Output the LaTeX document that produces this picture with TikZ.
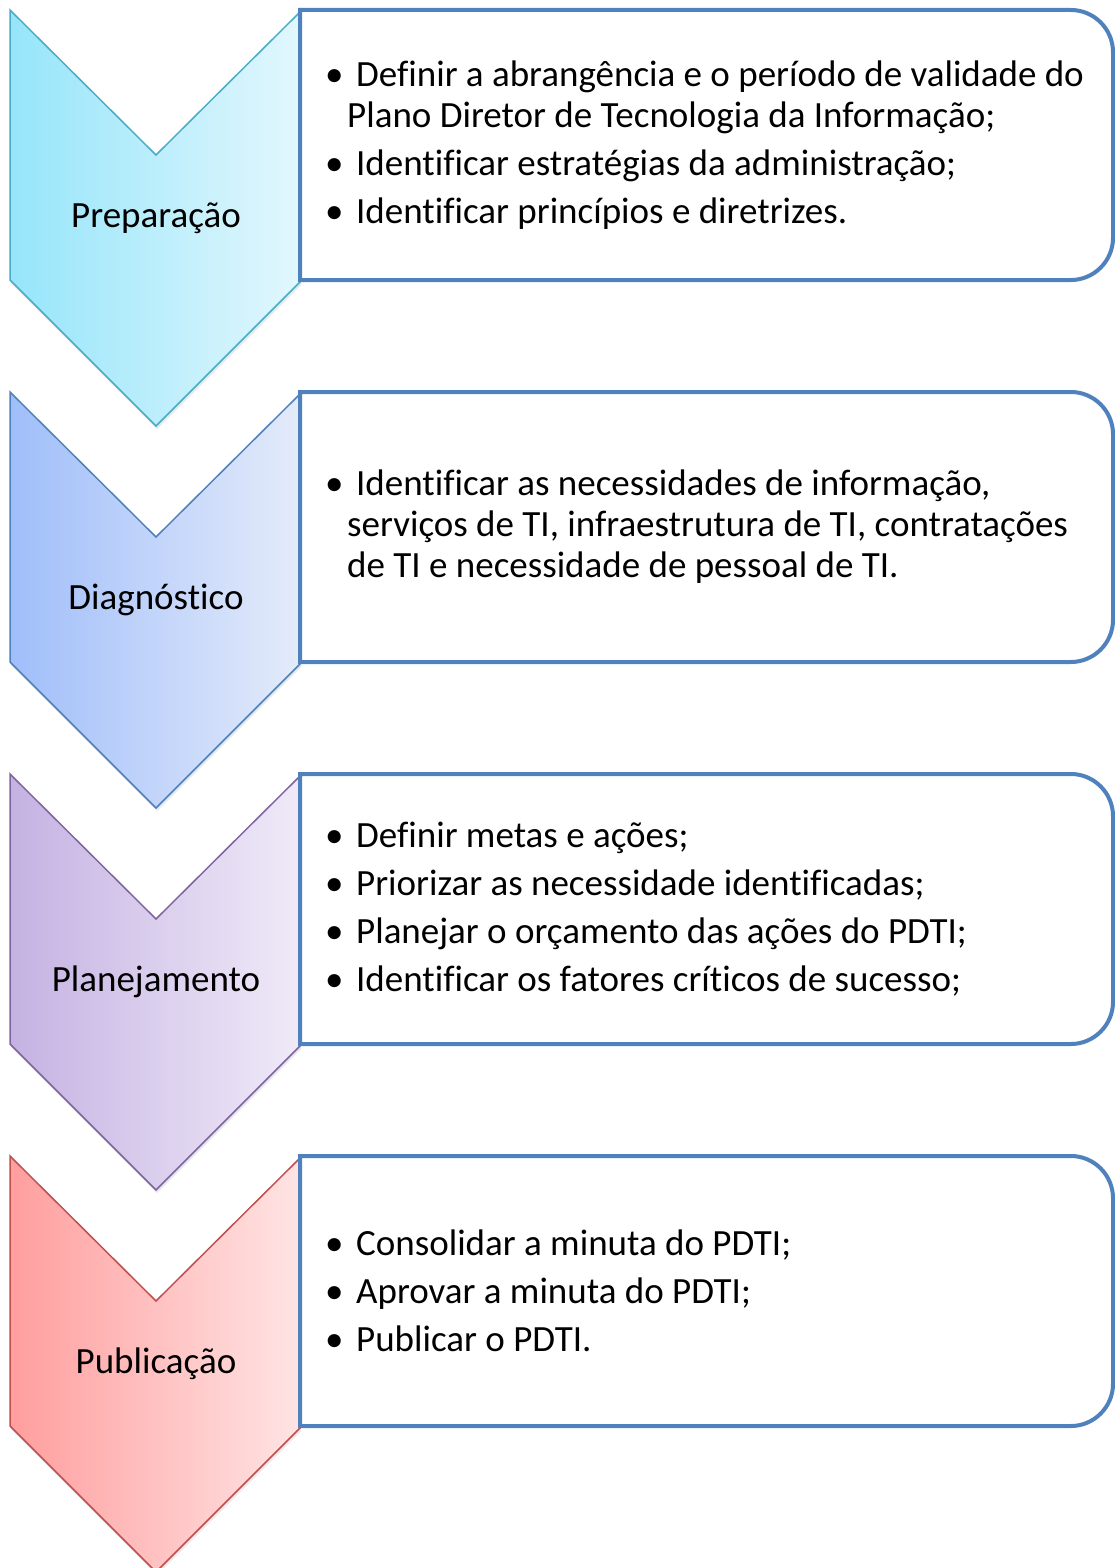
\documentclass[tikz,border=0pt]{standalone}
\usepackage{fontspec}
\setmainfont{Carlito}[Ligatures=CommonOff]
\usetikzlibrary{shadows}

\definecolor{chevAleft}{RGB}{150,229,250}
\definecolor{chevAright}{RGB}{226,247,253}
\definecolor{chevAline}{RGB}{75,172,198}
\definecolor{chevBleft}{RGB}{160,190,250}
\definecolor{chevBright}{RGB}{228,235,250}
\definecolor{chevBline}{RGB}{79,129,189}
\definecolor{chevCleft}{RGB}{196,178,226}
\definecolor{chevCright}{RGB}{240,234,248}
\definecolor{chevCline}{RGB}{128,100,162}
\definecolor{chevDleft}{RGB}{255,158,158}
\definecolor{chevDright}{RGB}{255,228,228}
\definecolor{chevDline}{RGB}{192,80,77}
\definecolor{boxblue}{RGB}{79,129,189}

\newcommand{\itembul}{\makebox[31pt][l]{\textbullet}}
\newcommand{\itemcont}{\hspace*{22pt}}

\begin{document}
\begin{tikzpicture}[
    x=1pt, y=-1pt,
    chev/.style={line width=1.5pt, line join=miter,
                 drop shadow={opacity=0.18, shadow xshift=1pt, shadow yshift=-3pt}},
    stepbox/.style={draw=boxblue, line width=4pt, fill=white},
    lbl/.style={inner sep=0pt, font=\fontsize{37}{41}\selectfont},
    items/.style={anchor=west, align=left, inner sep=0pt,
                  font=\fontsize{37}{41}\selectfont}
]
\useasboundingbox (0,0) rectangle (1115,1568);

% --- Chevrons and text boxes, one per stage ---
\foreach \k/\c in {0/A,1/B,2/C,3/D} {
  \begin{scope}[yshift={-382pt*\k}]
    \path[chev, left color=chev\c left, right color=chev\c right, draw=chev\c line]
      (10,10) -- (156,155) -- (300,12) -- (300,282) -- (156,426) -- (10,280) -- cycle;
    \draw[stepbox] (300,10) -- (1071,10) .. controls (1094,10) and (1113,29) .. (1113,52)
      -- (1113,238) .. controls (1113,261) and (1094,280) .. (1071,280) -- (300,280) -- cycle;
  \end{scope}
}

% --- Stage labels ---
\node[lbl] (prep) at (156,218) {Preparação};
\node[lbl] (diag) at (156,600) {Diagnóstico};
\node[lbl] (plan) at (156,982) {Planejamento};
\node[lbl] (pub)  at (156,1364) {Publicação};

% --- Bullet lists ---
\node[items] (prepitems) at (325,145) {%
  \itembul Definir a abrangência e o período de validade do\\
  \itemcont Plano Diretor de Tecnologia da Informação;\\[7pt]
  \itembul Identificar estratégias da administração;\\[7pt]
  \itembul Identificar princípios e diretrizes.};
\node[items] (diagitems) at (325,527) {%
  \itembul Identificar as necessidades de informação,\\
  \itemcont serviços de TI, infraestrutura de TI, contratações\\
  \itemcont de TI e necessidade de pessoal de TI.};
\node[items] (planitems) at (325,909) {%
  \itembul Definir metas e ações;\\[7pt]
  \itembul Priorizar as necessidade identificadas;\\[7pt]
  \itembul Planejar o orçamento das ações do PDTI;\\[7pt]
  \itembul Identificar os fatores críticos de sucesso;};
\node[items] (pubitems) at (325,1291) {%
  \itembul Consolidar a minuta do PDTI;\\[7pt]
  \itembul Aprovar a minuta do PDTI;\\[7pt]
  \itembul Publicar o PDTI.};

\end{tikzpicture}
\end{document}
